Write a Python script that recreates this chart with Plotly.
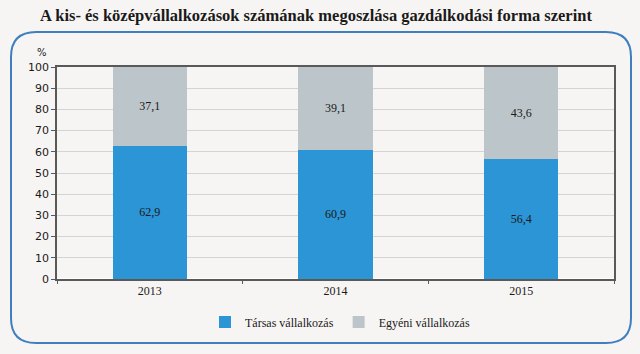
import plotly.graph_objects as go

years = ["2013", "2014", "2015"]
tarsas = [62.9, 60.9, 56.4]
egyeni = [37.1, 39.1, 43.6]
series_names = ["Társas vállalkozás", "Egyéni vállalkozás"]
colors = ["#2B95D6", "#BCC6CA"]

W, H = 640, 354
L, R, T, B = 57, 26, 67, 75
pw, ph = W - L - R, H - T - B

def px(x):
    return (x - L) / pw

def py(y):
    return (H - B - y) / ph

def fmt(v):
    return f"{v:.1f}".replace(".", ",")

fig = go.Figure()
for name, vals, c in zip(series_names, [tarsas, egyeni], colors):
    fig.add_trace(go.Bar(
        x=years, y=vals, name=name, marker=dict(color=c, line=dict(width=0)),
        text=[fmt(v) for v in vals], textposition="inside", insidetextanchor="middle",
        textfont=dict(family="Liberation Serif", size=12, color="#1a1a1a"),
        textangle=0, width=0.4,
    ))

# rounded rectangle frame
x0, x1, y0, y1, r = 11, 631, 32, 343, 25
pts = [
    f"M {px(x0 + r)},{py(y0)}",
    f"L {px(x1 - r)},{py(y0)}",
    f"Q {px(x1)},{py(y0)} {px(x1)},{py(y0 + r)}",
    f"L {px(x1)},{py(y1 - r)}",
    f"Q {px(x1)},{py(y1)} {px(x1 - r)},{py(y1)}",
    f"L {px(x0 + r)},{py(y1)}",
    f"Q {px(x0)},{py(y1)} {px(x0)},{py(y1 - r)}",
    f"L {px(x0)},{py(y0 + r)}",
    f"Q {px(x0)},{py(y0)} {px(x0 + r)},{py(y0)} Z",
]
fig.add_shape(type="path", path=" ".join(pts), xref="paper", yref="paper",
              line=dict(color="#3F7FBF", width=2), layer="below")

fig.update_layout(
    width=W, height=H,
    margin=dict(l=L, r=R, t=T, b=B),
    barmode="stack",
    paper_bgcolor="#F7F5F3", plot_bgcolor="#F7F5F3",
    title=dict(text="<b>A kis- és középvállalkozások számának megoszlása gazdálkodási forma szerint</b>",
               x=316 / W, xanchor="center", y=1 - 15 / H, yanchor="middle",
               font=dict(family="Liberation Serif", size=16.5, color="#1a1a1a")),
    showlegend=True,
    legend=dict(orientation="h", x=px(340), xanchor="center", y=py(322), yanchor="middle",
                font=dict(family="Liberation Serif", size=12, color="#1a1a1a"),
                bgcolor="rgba(0,0,0,0)", itemwidth=30, traceorder="normal"),
    xaxis=dict(showline=True, linecolor="#595959", linewidth=1.5, mirror=True,
               ticks="outside", tickson="boundaries", ticklen=3, tickcolor="#595959",
               tickfont=dict(family="Liberation Serif", size=12, color="#1a1a1a")),
    yaxis=dict(range=[0, 100], dtick=10, showline=True, linecolor="#595959", linewidth=1.5,
               mirror=True, ticks="outside", ticklen=4, tickcolor="#595959",
               gridcolor="#D4D4D4", gridwidth=1,
               tickfont=dict(family="DejaVu Sans", size=11, color="#1a1a1a")),
    bargap=0.6,
)
fig.add_annotation(text="%", x=px(42), y=py(52), xref="paper", yref="paper",
                   xanchor="center", yanchor="middle",
                   showarrow=False, font=dict(family="DejaVu Sans", size=10, color="#1a1a1a"))

fig.write_html("out.html")
